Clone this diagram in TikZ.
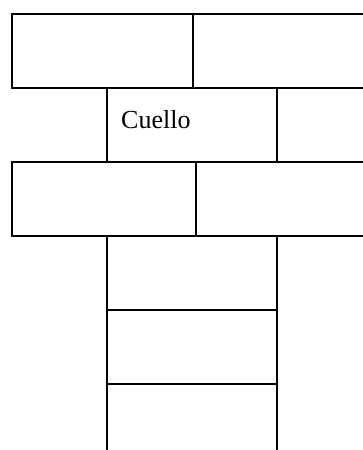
\documentclass[tikz,border=0pt]{standalone}
\usepackage{fontspec}
\setmainfont{Liberation Serif}
\begin{document}
\begin{tikzpicture}[x=1pt,y=-1pt,
  wall/.style={line width=1.4pt,line cap=rect},
  lbl/.style={anchor=base west,inner sep=0pt,font=\fontsize{26}{30}\selectfont}]
\useasboundingbox (0,0) rectangle (363,450);
% reference coordinates
\coordinate (r1tl) at (12,14);
\coordinate (r1tr) at (363,14);
\coordinate (r1bl) at (12,88);
\coordinate (r1br) at (363,88);
\coordinate (r1dt) at (193,14);
\coordinate (r1db) at (193,88);
\coordinate (r3tl) at (12,162);
\coordinate (r3tr) at (363,162);
\coordinate (r3bl) at (12,236);
\coordinate (r3br) at (363,236);
\coordinate (r3dt) at (196,162);
\coordinate (r3db) at (196,236);
\coordinate (lv1) at (107,88);
\coordinate (lv2) at (107,162);
\coordinate (rv1) at (277,88);
\coordinate (rv2) at (277,162);
\coordinate (lv3) at (107,236);
\coordinate (lv4) at (107,450);
\coordinate (rv3) at (277,236);
\coordinate (rv4) at (277,450);
\coordinate (h1l) at (107,310);
\coordinate (h1r) at (277,310);
\coordinate (h2l) at (107,384);
\coordinate (h2r) at (277,384);
% top row
\draw[wall] (r1tr) -- (r1tl) -- (r1bl) -- (r1br);
\draw[wall] (r1dt) -- (r1db);
% neck row
\draw[wall] (lv1) -- (lv2);
\draw[wall] (rv1) -- (rv2);
\node[lbl] (cuello) at (121,128) {Cuello};
% third row
\draw[wall] (r3tr) -- (r3tl) -- (r3bl) -- (r3br);
\draw[wall] (r3dt) -- (r3db);
% lower column
\draw[wall] (lv3) -- (lv4);
\draw[wall] (rv3) -- (rv4);
\draw[wall] (h1l) -- (h1r);
\draw[wall] (h2l) -- (h2r);
\end{tikzpicture}
\end{document}
